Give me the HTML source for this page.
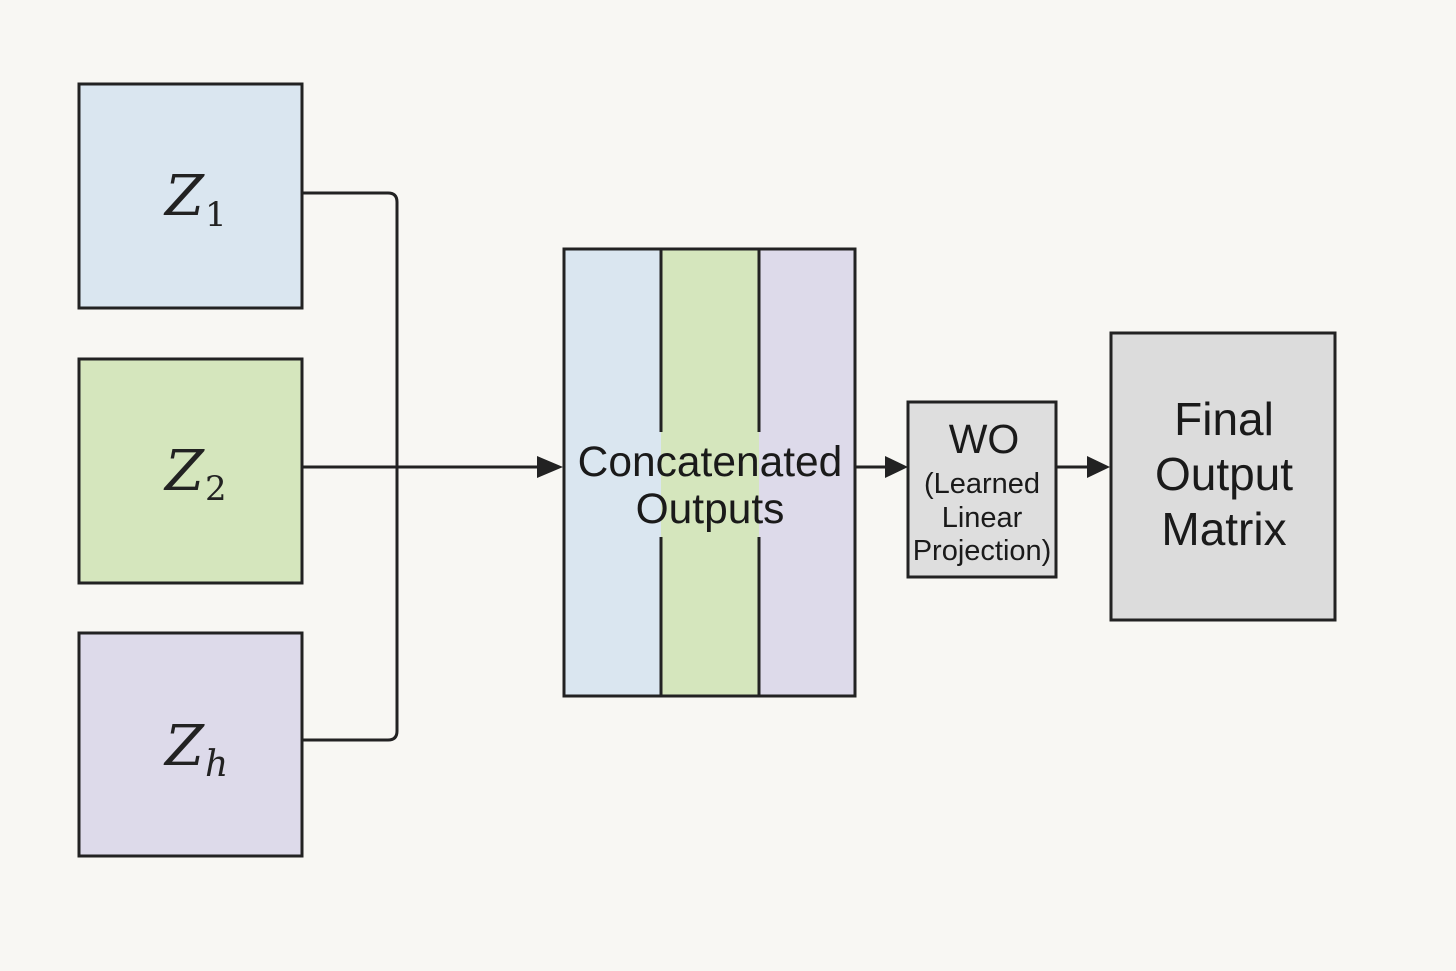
<!DOCTYPE html>
<html><head><style>
html,body{margin:0;padding:0;background:#f8f7f3;}
svg{display:block;}
.s{font-family:"Liberation Sans",sans-serif;fill:#1a1a1a;}
.z{font-family:"DejaVu Serif","Liberation Serif",serif;fill:#222;}
</style></head><body>
<svg width="1456" height="971" viewBox="0 0 1456 971" xmlns="http://www.w3.org/2000/svg">
<rect width="1456" height="971" fill="#f8f7f3"/>
<g stroke="#222" stroke-width="3">
<rect x="79" y="84" width="223" height="224" fill="#dae6f0"/>
<rect x="79" y="359" width="223" height="224" fill="#d5e6bd"/>
<rect x="79" y="633" width="223" height="223" fill="#dddaea"/>
</g>
<path d="M302 193 H388 Q397 193 397 202 V731 Q397 740 388 740 H302" fill="none" stroke="#222" stroke-width="3"/>
<line x1="302" y1="467" x2="540" y2="467" stroke="#222" stroke-width="3"/>
<polygon points="537,456 563,467 537,478" fill="#222"/>
<text class="z" x="165" y="215" font-size="56" font-style="italic">Z</text><text class="z" x="205" y="226" font-size="34">1</text>
<text class="z" x="165" y="490" font-size="56" font-style="italic">Z</text><text class="z" x="205" y="500" font-size="34">2</text>
<text class="z" x="165" y="765" font-size="56" font-style="italic">Z</text><text class="z" x="205" y="776" font-size="36" font-style="italic">h</text>
<rect x="564" y="249" width="97" height="447" fill="#dae6f0"/>
<rect x="661" y="249" width="98" height="447" fill="#d5e6bd"/>
<rect x="759" y="249" width="96" height="447" fill="#dddaea"/>
<rect x="564" y="249" width="291" height="447" fill="none" stroke="#222" stroke-width="3"/>
<g stroke="#222" stroke-width="3">
<line x1="661" y1="249" x2="661" y2="432"/><line x1="661" y1="537" x2="661" y2="696"/>
<line x1="759" y1="249" x2="759" y2="432"/><line x1="759" y1="537" x2="759" y2="696"/>
</g>
<text class="s" x="710" y="476" font-size="42.5" text-anchor="middle">Concatenated</text>
<text class="s" x="710" y="523" font-size="42.5" text-anchor="middle">Outputs</text>
<line x1="855" y1="467" x2="888" y2="467" stroke="#222" stroke-width="3"/>
<polygon points="885,456 908,467 885,478" fill="#222"/>
<rect x="908" y="402" width="148" height="175" fill="#dedede" stroke="#222" stroke-width="3"/>
<text class="s" x="984" y="453" font-size="41" text-anchor="middle">WO</text>
<text class="s" x="982" y="493" font-size="29" text-anchor="middle">(Learned</text>
<text class="s" x="982" y="527" font-size="29" text-anchor="middle">Linear</text>
<text class="s" x="982" y="560" font-size="29" text-anchor="middle">Projection)</text>
<line x1="1056" y1="467" x2="1090" y2="467" stroke="#222" stroke-width="3"/>
<polygon points="1087,456 1110,467 1087,478" fill="#222"/>
<rect x="1111" y="333" width="224" height="287" fill="#dcdcdc" stroke="#222" stroke-width="3"/>
<text class="s" x="1224" y="435" font-size="46" text-anchor="middle">Final</text>
<text class="s" x="1224" y="490" font-size="46" text-anchor="middle">Output</text>
<text class="s" x="1224" y="545" font-size="46" text-anchor="middle">Matrix</text>
</svg>
</body></html>
